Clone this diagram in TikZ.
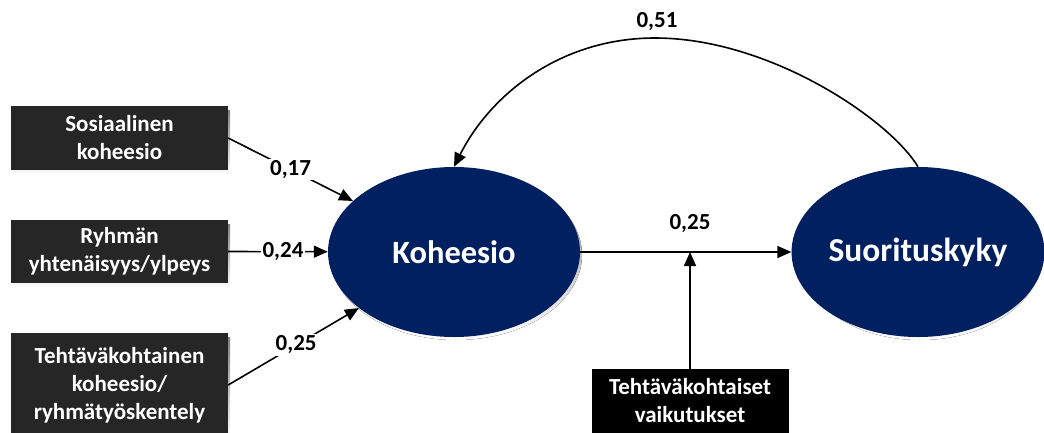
\documentclass[tikz,border=0pt]{standalone}
\usepackage{fontspec}
\setmainfont{Carlito}
\usetikzlibrary{arrows.meta,shapes.geometric}
\definecolor{navy}{RGB}{0,32,96}
\definecolor{boxgray}{RGB}{38,38,38}
\definecolor{shade}{RGB}{198,217,240}
\begin{document}
\begin{tikzpicture}[x=1pt,y=-1pt,
  boxtext/.style={font=\fontsize{23}{28}\selectfont\bfseries, text=white, align=center,
    inner sep=0pt, minimum width=217pt},
  graybox/.style={boxtext, fill=boxgray},
  blackbox/.style={boxtext, fill=black},
  oval/.style={ellipse, fill=navy, text=white, inner sep=0pt,
    minimum width=252pt, minimum height=170pt, font=\fontsize{32.5}{36}\selectfont\bfseries},
  lbl/.style={font=\fontsize{23}{26}\selectfont\bfseries, fill=white, inner sep=1.5pt},
  link/.style={line width=1.6pt, -{Triangle[length=14pt,width=12pt]}},
  plain/.style={line width=1.6pt}]
\useasboundingbox (0,0) rectangle (1044,432);
\clip (0,0) rectangle (1044,432);

% shadows
\fill[shade] (13,110) rectangle (230,175);
\fill[shade] (13,224) rectangle (230,288);
\fill[shade] (13,337) rectangle (230,440);
\fill[shade] (456,255) ellipse [x radius=126, y radius=85];
\fill[shade] (920,255) ellipse [x radius=122, y radius=85];

% source boxes
\node[graybox, minimum height=64pt] (box1) at (119.5,138) {Sosiaalinen\\koheesio};
\node[graybox, minimum height=63pt] (box2) at (119.5,251.5) {Ryhmän\\yhtenäisyys/ylpeys};
\node[graybox, minimum height=104pt] (box3) at (119.5,385) {Tehtäväkohtainen\\koheesio/\\ryhmätyöskentely};
\node[blackbox, minimum width=197pt, minimum height=64pt] (box4) at (690,401) {Tehtäväkohtaiset\\vaikutukset};

% latent variables
\node[oval] (koh) at (454,252) {Koheesio};
\node[oval, minimum width=244pt, font=\fontsize{33.5}{36}\selectfont\bfseries] (suo) at (918,252) {Suorituskyky};

\coordinate (hit) at (690,252);
\coordinate (peak) at (655,38);

% paths
\draw[link] (box1.east) -- node[lbl, pos=0.5] {0,17} (koh);
\draw[link] (box2.east) -- node[lbl, pos=0.55] {0,24} (koh);
\draw[link] (box3.east) -- node[lbl, pos=0.52] {0,25} (koh);
\draw[link] (koh) -- (suo);
\draw[link] (box4.north) -- (hit);
\draw[plain] (suo.north) .. controls (890,120) and (770,38) .. (peak);
\draw[link] (peak) .. controls (560,38) and (490,95) .. (koh.north);

% labels
\node[lbl] (l25) at (690,224) {0,25};
\node[lbl] (l51) at (657,22) {0,51};
\end{tikzpicture}
\end{document}
